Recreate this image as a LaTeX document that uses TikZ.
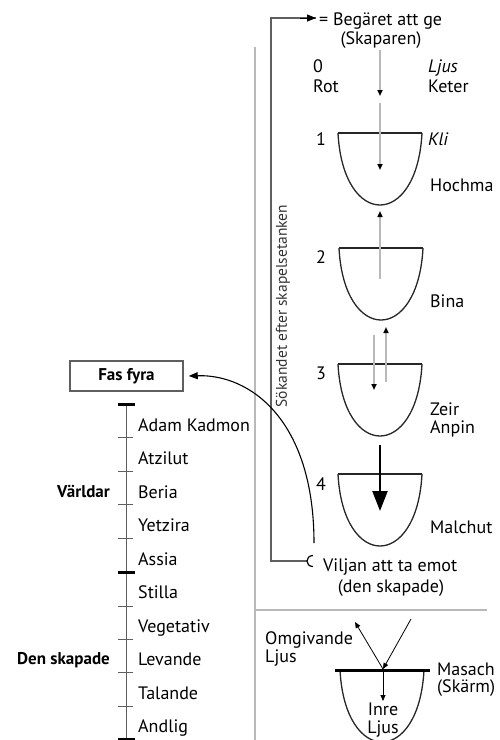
\documentclass[tikz,border=0pt]{standalone}
\usepackage{fontspec}
\setmainfont{PT Sans}
\newfontfamily\condbold{PT Sans Bold}
\usetikzlibrary{arrows.meta}
\definecolor{lgray}{RGB}{185,185,185}
\definecolor{dgray}{RGB}{95,95,95}
\begin{document}
\begin{tikzpicture}[x=1pt,y=-1pt,
  txt/.style={font=\fontsize{18}{20}\selectfont, inner sep=0pt, anchor=base west},
  txtc/.style={font=\fontsize{18}{20}\selectfont, inner sep=0pt, anchor=base},
  boldlbl/.style={font=\fontsize{17}{19}\selectfont\condbold, inner sep=0pt, anchor=base east},
  cupline/.style={line width=1.3pt, black!85},
  smalltip/.style={-{Triangle[length=6pt,width=5pt,color=black]}},
  raygray/.style={lgray, line width=1.6pt},
  cup/.pic={\draw[cupline] (-42,0) .. controls (-37,96) and (37,96) .. (42,0);
            \draw[cupline] (-42,0) -- (42,0);},
  bigtick/.style={line width=3pt, black},
  smalltick/.style={line width=0.6pt, dgray}
]
\useasboundingbox (0,0) rectangle (499,740);

% separator lines
\coordinate (gT) at (255,47);
\coordinate (gB) at (255,740);
\draw[lgray, line width=2pt] (gT) -- (gB);
\coordinate (hL) at (255,610);
\coordinate (hR) at (487,610);
\draw[lgray, line width=2pt] (hL) -- (hR);

% top text
\node[txt] (beg) at (319,25) {= Begäret att ge};
\node[txtc] (skap) at (381,44) {(Skaparen)};
\node[txt] (n0) at (313,72) {0};
\node[txt] (rot) at (313,92) {Rot};
\node[txt] (ljus0) at (428,72) {\itshape Ljus};
\node[txt] (keter) at (428,92) {Keter};

% bracket
\coordinate (bkTop) at (271,18);
\coordinate (bkBot) at (271,561);
\coordinate (bkTip) at (316,18);
\coordinate (cL) at (307,561);
\draw[dgray, line width=2pt] (cL) -- (bkBot) -- (bkTop) -- (bkTip);
\draw[-{Triangle[length=9pt,width=7pt,color=black]}, line width=1pt] (300,18) -- (bkTip);
\draw[line width=1.2pt] (313,555.5) .. controls (305,555.5) and (305,566.5) .. (313,566.5);
\node[font=\fontsize{15.5}{17}\selectfont, rotate=90, text=black!80, inner sep=0pt] (sok) at (283,306) {Sökandet efter skapelsetanken};

% cups
\pic at (380,133) {cup};
\pic at (381,248) {cup};
\pic at (380,364) {cup};
\pic at (380,474) {cup};

\node[txt] (n1) at (316,145) {1};
\node[txt] (kli) at (428,145) {\itshape Kli};
\node[txt] (hoch) at (430,191) {Hochma};
\node[txt] (n2) at (316,263) {2};
\node[txt] (bina) at (430,307) {Bina};
\node[txt] (n3) at (316,379) {3};
\node[txt] (zeir) at (430,415) {Zeir};
\node[txt] (anp) at (430,433) {Anpin};
\node[txt] (n4) at (316,490) {4};
\node[txt] (malc) at (430,533) {Malchut};

% light arrows
\coordinate (a0s) at (380,50);  \coordinate (a0e) at (380,96);
\coordinate (a1s) at (380,103); \coordinate (a1e) at (380,170);
\coordinate (a2s) at (380,279); \coordinate (a2e) at (380,211);
\coordinate (a3s) at (374,335); \coordinate (a3e) at (374,390);
\coordinate (a4s) at (386,382); \coordinate (a4e) at (386,327);
\draw[raygray, smalltip] (a0s) -- (a0e);
\draw[raygray, smalltip] (a1s) -- (a1e);
\draw[raygray, smalltip] (a2s) -- (a2e);
\draw[raygray, smalltip] (a3s) -- (a3e);
\draw[raygray, smalltip] (a4s) -- (a4e);
\coordinate (a5s) at (380,445); \coordinate (a5e) at (380,511);
\draw[line width=2.3pt, -{Triangle[length=20pt,width=15pt]}] (a5s) -- (a5e);

\node[txt] (vil) at (323,571) {Viljan att ta emot};
\node[txtc] (dsk) at (391,592) {(den skapade)};

% curve to Fas fyra
\node[draw=dgray, line width=1.5pt, minimum width=113pt, minimum height=30pt, inner sep=0pt,
      font=\fontsize{17}{19}\selectfont\condbold] (fas) at (126.5,376) {Fas fyra};
\coordinate (cvS) at (314,543);
\draw[line width=1.1pt, -{Triangle[length=9pt,width=7pt]}] (cvS) .. controls (314,420) and (250,374) .. ([xshift=5pt]fas.east);

% scale
\coordinate (sT) at (126,404);
\coordinate (sB) at (126,739);
\draw[dgray, line width=1pt] (sT) -- (sB);
\foreach \yy in {404,572,739} \draw[bigtick] (118,\yy) -- (135,\yy);
\foreach \yy in {437,471,504,538,606,639,672,706} \draw[smalltick] (118,\yy) -- (133,\yy);
\node[txt] at (138,431) {Adam Kadmon};
\node[txt] at (138,464.5) {Atzilut};
\node[txt] at (138,498) {Beria};
\node[txt] at (138,531.5) {Yetzira};
\node[txt] at (138,565) {Assia};
\node[txt] at (138,598.5) {Stilla};
\node[txt] at (138,632) {Vegetativ};
\node[txt] at (138,665.5) {Levande};
\node[txt] at (138,699) {Talande};
\node[txt] at (138,732.5) {Andlig};
\node[boldlbl] (varld) at (110,497) {Världar};
\node[boldlbl] (dens) at (110,664) {Den skapade};

% bottom: masach
\pic at (382,670) {cup};
\coordinate (mL) at (335,670); \coordinate (mR) at (430,670);
\draw[line width=3pt] (mL) -- (mR);
\coordinate (mP) at (383,669);
\coordinate (inS) at (411,619);
\coordinate (outE) at (355,622);
\coordinate (inreE) at (383,701);
\draw[line width=0.8pt, smalltip] (inS) -- (mP);
\draw[line width=0.8pt, smalltip] (mP) -- (outE);
\draw[line width=0.8pt, smalltip] (mP) -- (inreE);
\node[txt] (omg) at (265,644) {Omgivande};
\node[txt] (omgl) at (265,662) {Ljus};
\node[txt] (mas) at (437,675) {Masach};
\node[txt] (skarm) at (437,692) {(Skärm)};
\node[txtc] (inre) at (383,715) {Inre};
\node[txtc] (inrel) at (383,733) {Ljus};
\end{tikzpicture}
\end{document}
